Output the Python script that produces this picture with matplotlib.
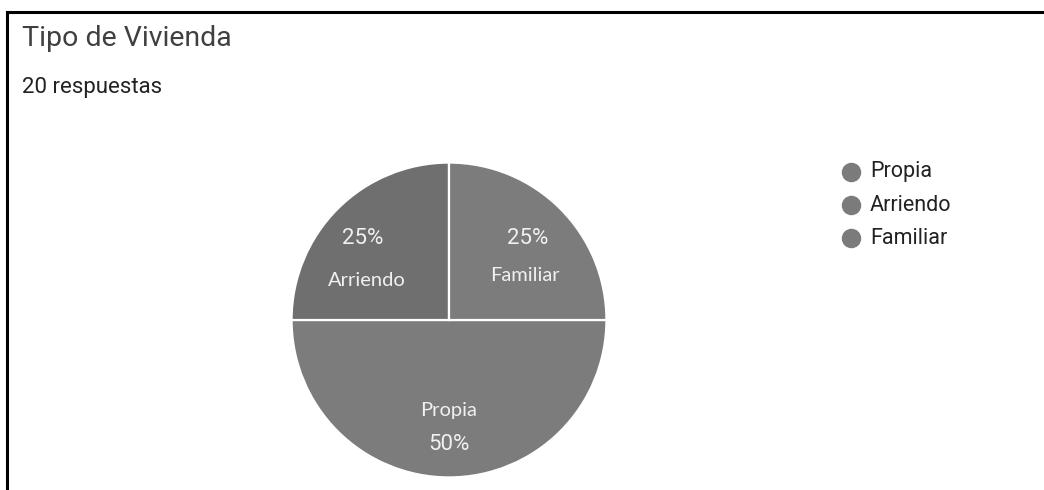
import matplotlib
matplotlib.use("Agg")
import matplotlib.pyplot as plt
from matplotlib.lines import Line2D

# ---- data ----
categories = ["Propia", "Arriendo", "Familiar"]
values = [50, 25, 25]
pct_labels = ["50%", "25%", "25%"]
title = "Tipo de Vivienda"
subtitle = "20 respuestas"

# ---- styles ----
W, H = 1044, 490
slice_colors = ["#7c7c7c", "#6f6f6f", "#7c7c7c"]
legend_color = "#7b7b7b"
label_color = "#f0f0f0"

fig = plt.figure(figsize=(W / 100, H / 100), dpi=100)
fig.patch.set_facecolor("white")

# frame lines
fig.add_artist(Line2D([7 / W, 1.0], [1 - 12 / H, 1 - 12 / H], color="black", lw=2.2))
fig.add_artist(Line2D([7 / W, 7 / W], [0, 1 - 12 / H], color="black", lw=2.2))

# titles
fig.text(22 / W, 1 - 46 / H, title, family="Roboto", fontsize=20.5, color="#404040",
         ha="left", va="baseline")
fig.text(22 / W, 1 - 93 / H, subtitle, family="Roboto", fontsize=16, color="#222222",
         ha="left", va="baseline")

# pie axes
cx, cy, r = 449, 320, 159
ax = fig.add_axes([(cx - r) / W, (H - cy - r) / H, 2 * r / W, 2 * r / H])
wedges, _ = ax.pie(values, colors=slice_colors, startangle=0, counterclock=False,
                   radius=1.0, wedgeprops=dict(edgecolor="white", linewidth=1.6))
ax.set_xlim(-1.01, 1.01)
ax.set_ylim(-1.01, 1.01)
ax.set_aspect("equal")
ax.axis("off")

# label positions (in radius units): percent and name for each category
pct_pos = [(0.0, -0.79), (-0.547, 0.516), (0.50, 0.516)]
name_pos = [(0.0, -0.572), (-0.52, 0.25), (0.48, 0.28)]
for cat, pct, pp, npos in zip(categories, pct_labels, pct_pos, name_pos):
    ax.text(pp[0], pp[1], pct, family="Roboto", fontsize=16,
            color=label_color, ha="center", va="center")
    ax.text(npos[0], npos[1], cat, family="Lato", fontsize=14.5, color=label_color,
            ha="center", va="center")

# legend
ys = [172, 205, 238]
for cat, y in zip(categories, ys):
    fig.add_artist(Line2D([851 / W], [1 - y / H], marker="o", markersize=13,
                          color=legend_color, lw=0))
    fig.text(870 / W, 1 - y / H, cat, family="Roboto", fontsize=15.5, color="#222222",
             ha="left", va="center")

fig.savefig("out.png", dpi=100)
